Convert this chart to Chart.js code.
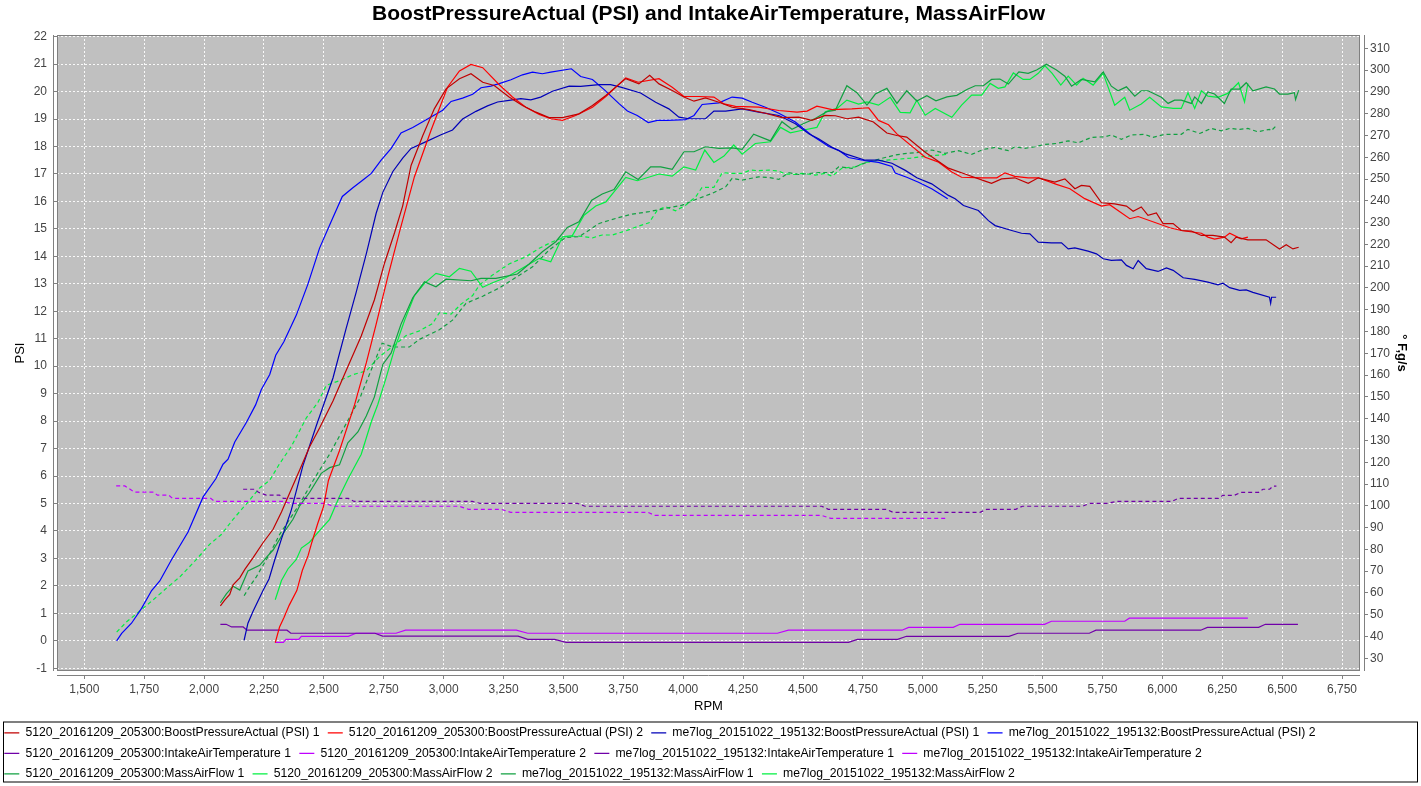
<!DOCTYPE html>
<html lang="en">
<head>
  <meta charset="UTF-8">
  <title>BoostPressureActual (PSI) and IntakeAirTemperature, MassAirFlow</title>
  <script src="https://cdn.jsdelivr.net/npm/chart.js@4.4.0/dist/chart.umd.min.js"></script>
  <style>
    body { margin: 0; background: #ffffff; }
  </style>
</head>
<body>
  <canvas id="chart" width="1421" height="786"></canvas>

  <script>
    // 01 data (rpm on x, PSI on the left axis, °F / g/s on the right axis)

    // 5120_20161209_205300 BoostPressureActual (PSI) 1
    const boost5120_1_rpm = [2068, 2086, 2107, 2121, 2149, 2170, 2204, 2246, 2288, 2323, 2364, 2399, 2440, 2482, 2538, 2593, 2656, 2711, 2753, 2795, 2829, 2864, 2913, 2961, 3010, 3066, 3114, 3163, 3211, 3273, 3329, 3385, 3440, 3496, 3565, 3621, 3677, 3760, 3815, 3860, 3899, 3954, 4003, 4045, 4093, 4149, 4204, 4274, 4343, 4412, 4482, 4537, 4593, 4635, 4683, 4732, 4794, 4850, 4892, 4933, 5010, 5107, 5176, 5260, 5287, 5329, 5384, 5440, 5482, 5551, 5593, 5635, 5662, 5697, 5746, 5801, 5850, 5878, 5912, 5940, 5975, 6003, 6045, 6079, 6121, 6163, 6211, 6259, 6287, 6308, 6357, 6433, 6489, 6517, 6545, 6569];
    const boost5120_1 = [1.27, 1.48, 1.69, 2.04, 2.29, 2.6, 3.02, 3.57, 4.06, 4.69, 5.52, 6.22, 7.06, 7.75, 8.73, 9.84, 11.1, 12.42, 13.75, 14.86, 15.84, 17.31, 18.4, 19.37, 20.1, 20.47, 20.65, 20.34, 20.22, 19.8, 19.49, 19.25, 19.05, 19.05, 19.19, 19.49, 19.86, 20.47, 20.28, 20.59, 20.28, 20.04, 19.8, 19.65, 19.77, 19.61, 19.43, 19.34, 19.21, 19.05, 19.07, 18.95, 19.13, 19.12, 19.01, 19.07, 18.89, 18.49, 18.4, 18.34, 17.79, 17.21, 17.0, 16.74, 16.66, 16.82, 16.86, 16.66, 16.86, 16.7, 16.82, 16.46, 16.58, 16.55, 15.95, 15.91, 15.83, 15.64, 15.8, 15.49, 15.58, 15.19, 15.19, 14.94, 14.92, 14.76, 14.76, 14.7, 14.5, 14.7, 14.6, 14.6, 14.27, 14.42, 14.27, 14.33];

    // 5120_20161209_205300 BoostPressureActual (PSI) 2
    const boost5120_2_rpm = [2297, 2315, 2334, 2355, 2387, 2410, 2434, 2450, 2474, 2498, 2519, 2565, 2628, 2677, 2718, 2767, 2816, 2878, 2947, 3016, 3066, 3114, 3163, 3232, 3287, 3343, 3399, 3447, 3496, 3551, 3621, 3677, 3760, 3812, 3899, 3954, 4003, 4065, 4128, 4170, 4218, 4315, 4399, 4475, 4517, 4558, 4621, 4704, 4774, 4815, 4857, 4892, 5010, 5066, 5121, 5162, 5246, 5309, 5343, 5384, 5440, 5482, 5558, 5614, 5676, 5746, 5780, 5864, 5899, 6031, 6079, 6163, 6190, 6218, 6259, 6281, 6329, 6357];
    const boost5120_2 = [-0.07, 0.5, 0.86, 1.29, 1.83, 2.56, 3.1, 3.59, 4.26, 4.87, 5.84, 6.92, 8.59, 10.12, 11.52, 13.26, 14.9, 16.9, 18.58, 20.16, 20.75, 20.99, 20.87, 20.25, 19.8, 19.43, 19.17, 19.01, 18.95, 19.13, 19.43, 19.82, 20.5, 20.34, 20.47, 20.16, 19.82, 19.82, 19.8, 19.55, 19.46, 19.43, 19.31, 19.25, 19.29, 19.47, 19.34, 19.37, 19.41, 18.95, 18.79, 18.46, 17.61, 17.43, 17.07, 16.88, 16.86, 16.86, 17.04, 16.91, 16.86, 16.86, 16.62, 16.46, 16.1, 15.83, 15.88, 15.37, 15.45, 15.04, 14.94, 14.84, 14.7, 14.63, 14.7, 14.84, 14.64, 14.7];

    // me7log_20151022_195132 BoostPressureActual (PSI) 1
    const boostMe7_1_rpm = [2167, 2183, 2204, 2246, 2271, 2295, 2323, 2364, 2412, 2468, 2538, 2593, 2635, 2677, 2718, 2746, 2788, 2829, 2864, 2920, 2989, 3037, 3079, 3135, 3183, 3225, 3273, 3322, 3364, 3405, 3454, 3524, 3572, 3649, 3697, 3739, 3822, 3885, 3940, 3982, 4024, 4093, 4128, 4177, 4246, 4315, 4399, 4468, 4524, 4565, 4621, 4677, 4760, 4815, 4871, 4927, 4975, 5037, 5107, 5135, 5170, 5232, 5274, 5302, 5371, 5412, 5447, 5482, 5537, 5579, 5607, 5635, 5690, 5725, 5753, 5787, 5829, 5850, 5878, 5899, 5933, 5982, 6017, 6045, 6087, 6135, 6190, 6232, 6253, 6281, 6323, 6350, 6378, 6447, 6452, 6456, 6475];
    const boostMe7_1 = [0.02, 0.64, 1.07, 1.83, 2.25, 2.95, 3.71, 4.76, 6.36, 7.82, 9.57, 11.38, 12.7, 14.09, 15.56, 16.33, 17.09, 17.58, 17.93, 18.15, 18.43, 18.6, 19.0, 19.28, 19.48, 19.62, 19.68, 19.74, 19.7, 19.8, 20.01, 20.2, 20.19, 20.25, 20.25, 20.16, 19.95, 19.61, 19.37, 19.07, 19.01, 19.01, 19.29, 19.29, 19.37, 19.25, 19.13, 18.83, 18.46, 18.28, 17.97, 17.73, 17.5, 17.5, 17.39, 17.13, 16.86, 16.64, 16.22, 16.1, 15.85, 15.67, 15.3, 15.12, 14.94, 14.84, 14.82, 14.52, 14.49, 14.49, 14.27, 14.31, 14.19, 14.09, 13.91, 13.85, 13.87, 13.67, 13.55, 13.85, 13.55, 13.45, 13.58, 13.49, 13.22, 13.16, 13.06, 12.96, 13.02, 12.86, 12.76, 12.78, 12.69, 12.51, 12.29, 12.51, 12.51];

    // me7log_20151022_195132 BoostPressureActual (PSI) 2
    const boostMe7_2_rpm = [1635, 1656, 1697, 1739, 1781, 1815, 1864, 1933, 1996, 2049, 2079, 2100, 2128, 2177, 2215, 2239, 2274, 2299, 2333, 2385, 2433, 2482, 2531, 2577, 2621, 2663, 2698, 2739, 2781, 2822, 2871, 2940, 2996, 3031, 3079, 3121, 3156, 3197, 3232, 3281, 3329, 3371, 3412, 3447, 3533, 3572, 3621, 3670, 3732, 3767, 3808, 3854, 3892, 3933, 4010, 4045, 4079, 4149, 4204, 4246, 4288, 4343, 4399, 4468, 4537, 4579, 4607, 4649, 4690, 4760, 4815, 4871, 4885, 4933, 4982, 5037, 5104];
    const boostMe7_2 = [0, 0.27, 0.64, 1.18, 1.83, 2.18, 2.95, 3.96, 5.24, 5.9, 6.43, 6.61, 7.24, 7.96, 8.59, 9.15, 9.7, 10.4, 10.89, 11.86, 12.98, 14.3, 15.28, 16.18, 16.5, 16.78, 17.02, 17.5, 17.93, 18.49, 18.69, 19.04, 19.32, 19.64, 19.76, 19.9, 20.14, 20.2, 20.29, 20.43, 20.61, 20.71, 20.65, 20.71, 20.83, 20.55, 20.44, 20.07, 19.56, 19.29, 19.13, 18.87, 18.95, 18.95, 18.98, 19.13, 19.53, 19.59, 19.8, 19.76, 19.61, 19.43, 19.21, 18.89, 18.4, 18.16, 18.0, 17.86, 17.6, 17.48, 17.42, 17.27, 17.03, 16.88, 16.7, 16.46, 16.1];

    // 5120_20161209_205300 IntakeAirTemperature 1
    const iat5120_1_rpm = [2068, 2092, 2115, 2163, 2179, 2346, 2362, 2713, 2745, 3311, 3351, 3463, 3511, 4690, 4727, 4895, 4932, 5360, 5397, 5695, 5723, 6160, 6188, 6402, 6430, 6566];
    const iat5120_1 = [45.6, 45.6, 44.4, 44.4, 42.9, 42.9, 41.5, 41.5, 40.2, 40.2, 38.7, 38.7, 37.3, 37.3, 38.7, 38.7, 40.1, 40.1, 41.5, 41.5, 42.9, 42.9, 44.2, 44.2, 45.6, 45.6];

    // 5120_20161209_205300 IntakeAirTemperature 2
    const iat5120_2_rpm = [2296, 2331, 2342, 2395, 2406, 2602, 2634, 2801, 2841, 3303, 3351, 4393, 4439, 4913, 4941, 5127, 5155, 5508, 5537, 5843, 5862, 6357];
    const iat5120_2 = [37.3, 37.3, 38.7, 38.7, 40.1, 40.1, 41.5, 41.5, 42.9, 42.9, 41.5, 41.5, 42.9, 42.9, 44.2, 44.2, 45.6, 45.6, 47, 47, 48.4, 48.4];

    // me7log_20151022_195132 IntakeAirTemperature 1
    const iatMe7_1_rpm = [2163, 2211, 2227, 2259, 2315, 2331, 2602, 2626, 3120, 3152, 3559, 3590, 4578, 4606, 4848, 4876, 5239, 5267, 5388, 5416, 5667, 5695, 5769, 5807, 6039, 6067, 6234, 6253, 6300, 6328, 6402, 6420, 6448, 6461, 6476];
    const iatMe7_1 = [107.6, 107.6, 106.2, 104.9, 104.9, 103.4, 103.4, 102, 102, 101.1, 101.1, 99.8, 99.8, 98.4, 98.4, 97, 97, 98.4, 98.4, 99.8, 99.8, 101.1, 101.1, 102, 102, 103.4, 103.4, 104.8, 104.8, 106.2, 106.2, 107.6, 107.6, 109, 109];

    // me7log_20151022_195132 IntakeAirTemperature 2
    const iatMe7_2_rpm = [1633, 1669, 1709, 1789, 1805, 1852, 1868, 2028, 2044, 2331, 2363, 2506, 2538, 3064, 3104, 3240, 3280, 3853, 3881, 4578, 4616, 5105];
    const iatMe7_2 = [109.1, 109.1, 106.3, 106.3, 104.9, 104.9, 103.4, 103.4, 102, 102, 101.1, 101.1, 99.8, 99.8, 98.4, 98.4, 97, 97, 95.6, 95.6, 94.2, 94.2];

    // 5120_20161209_205300 MassAirFlow 1
    const maf5120_1_rpm = [2068, 2093, 2121, 2149, 2183, 2232, 2260, 2288, 2329, 2371, 2399, 2440, 2489, 2524, 2565, 2600, 2642, 2677, 2711, 2746, 2781, 2822, 2871, 2920, 2968, 3010, 3114, 3156, 3218, 3308, 3357, 3412, 3468, 3516, 3565, 3618, 3662, 3711, 3760, 3812, 3864, 3906, 3954, 4003, 4045, 4093, 4149, 4204, 4246, 4294, 4364, 4412, 4454, 4503, 4551, 4600, 4635, 4683, 4725, 4767, 4802, 4850, 4892, 4933, 4975, 5017, 5055, 5101, 5142, 5184, 5219, 5253, 5287, 5322, 5357, 5401, 5440, 5475, 5516, 5558, 5593, 5621, 5662, 5718, 5753, 5787, 5815, 5850, 5885, 5912, 5940, 5996, 6024, 6051, 6079, 6121, 6135, 6163, 6190, 6218, 6259, 6287, 6323, 6350, 6378, 6433, 6468, 6489, 6524, 6551, 6556, 6569];
    const maf5120_1 = [55.5, 59.6, 63.1, 61.3, 70.1, 72.7, 76.3, 79.7, 87.1, 93.8, 100, 106.1, 114.9, 117.5, 118.8, 128.9, 133.9, 141.2, 150, 164.9, 170.2, 183.4, 195.5, 202.8, 200.5, 204, 203.3, 204.4, 204.4, 206.4, 211, 216.6, 221.2, 227.8, 230.4, 240.3, 243.1, 245.2, 253.3, 249.8, 255.6, 255.6, 254.4, 262.5, 262.5, 264.8, 264.1, 264.3, 263.6, 270.6, 267.5, 276.3, 272.8, 275.5, 277.8, 280.9, 281.6, 292.8, 289.6, 283.9, 289, 291.6, 284.7, 290.5, 285.8, 288.2, 285.9, 287.7, 288.4, 291.1, 292.8, 292.8, 295.7, 295.9, 293.6, 299.2, 298.5, 300, 302.7, 300, 297.2, 292.6, 295.7, 294.6, 299.2, 292.6, 290.5, 292.3, 288, 290.5, 290.5, 287.5, 284.7, 286.2, 286.2, 284.7, 287.7, 284.7, 290, 289, 284.7, 291.3, 291.3, 294.2, 290.5, 292.3, 291.3, 289, 289, 289.6, 286.5, 290.8];

    // 5120_20161209_205300 MassAirFlow 2
    const maf5120_2_rpm = [2297, 2323, 2350, 2385, 2406, 2440, 2482, 2524, 2565, 2600, 2656, 2698, 2725, 2760, 2795, 2837, 2878, 2920, 2968, 3024, 3066, 3114, 3163, 3204, 3260, 3315, 3399, 3447, 3496, 3537, 3586, 3635, 3677, 3760, 3808, 3899, 3954, 4003, 4052, 4090, 4128, 4170, 4211, 4246, 4301, 4364, 4406, 4447, 4503, 4558, 4593, 4642, 4683, 4732, 4767, 4815, 4864, 4906, 4947, 4975, 5010, 5052, 5121, 5162, 5204, 5246, 5281, 5315, 5343, 5378, 5419, 5447, 5482, 5510, 5540, 5576, 5607, 5642, 5669, 5711, 5753, 5801, 5843, 5864, 5912, 5947, 5996, 6045, 6079, 6107, 6135, 6163, 6190, 6232, 6273, 6318, 6343, 6357];
    const maf5120_2 = [56.9, 65.7, 71, 75.4, 80.6, 83.3, 88.6, 93.8, 104.3, 112.2, 123.7, 138.6, 146.5, 158.8, 172, 185.2, 196.5, 202.1, 206.7, 205.1, 209, 207.7, 200.3, 202.4, 204.8, 208.2, 213.6, 212, 223.5, 224, 233.4, 237.6, 239.5, 250.7, 249.2, 252.3, 251.3, 255.6, 254.1, 263.3, 257.6, 260.5, 265.6, 261.4, 266.3, 267.1, 273.7, 271.2, 272.5, 273.7, 280.9, 282.4, 286.2, 284.4, 285.4, 283.9, 287.5, 280.6, 280.4, 286.2, 279.3, 282.4, 278.3, 283.9, 288.5, 288.5, 293.9, 291.6, 292.3, 298.7, 295.7, 295.7, 298.5, 302, 298.5, 293.1, 297.2, 293.1, 296.2, 293.1, 298.5, 283.9, 287.5, 281.6, 284.4, 287.5, 283.1, 282.4, 282.4, 289.6, 282.4, 290.5, 288, 287.5, 289.3, 294.2, 285.4, 293.9];

    // me7log_20151022_195132 MassAirFlow 1
    const mafMe7_1_rpm = [2167, 2191, 2218, 2246, 2274, 2315, 2357, 2399, 2454, 2524, 2593, 2649, 2704, 2743, 2788, 2857, 2899, 2982, 3037, 3093, 3163, 3232, 3301, 3371, 3440, 3510, 3565, 3649, 3718, 3787, 3857, 3926, 3996, 4052, 4121, 4177, 4204, 4246, 4315, 4357, 4399, 4440, 4482, 4565, 4621, 4649, 4704, 4760, 4829, 4885, 4933, 4982, 5037, 5093, 5149, 5204, 5253, 5302, 5357, 5384, 5426, 5468, 5510, 5558, 5607, 5649, 5704, 5760, 5787, 5829, 5871, 5926, 5961, 6010, 6079, 6107, 6156, 6204, 6246, 6281, 6323, 6357, 6398, 6447, 6454, 6475];
    const mafMe7_1 = [58.7, 63.1, 67.4, 72.7, 78, 86.8, 93.8, 100.9, 111.4, 123.7, 137.7, 149.1, 164.1, 174.6, 172.9, 172.9, 176.4, 180.8, 185.2, 192.9, 196.2, 200, 204.8, 209.7, 217.4, 223.2, 223.5, 229.6, 231.9, 233.9, 235, 236.5, 238, 240.6, 243.4, 246.4, 250.3, 249.5, 251, 250.7, 249.8, 252.9, 252.1, 252.9, 252.9, 255.6, 254.9, 257.4, 259.5, 261, 261.8, 262.2, 263.3, 261.8, 263, 261.3, 263.6, 264.5, 263, 264.8, 264.1, 264.8, 265.9, 266.3, 267.5, 266.6, 269.1, 269.4, 270.2, 268.2, 270.2, 270.5, 269.1, 270.5, 270.5, 272.8, 270.9, 273.2, 272.1, 273.2, 272.8, 273.2, 271.7, 272.8, 272.1, 274.4];

    // me7log_20151022_195132 MassAirFlow 2
    const mafMe7_2_rpm = [1635, 1677, 1732, 1788, 1843, 1899, 1968, 2024, 2072, 2121, 2177, 2232, 2274, 2315, 2364, 2427, 2475, 2510, 2565, 2621, 2677, 2732, 2788, 2843, 2899, 2954, 2982, 3031, 3072, 3121, 3149, 3204, 3273, 3343, 3399, 3454, 3510, 3565, 3621, 3662, 3704, 3760, 3815, 3857, 3892, 3926, 3968, 4010, 4052, 4079, 4128, 4163, 4204, 4246, 4281, 4315, 4357, 4399, 4426, 4468, 4496, 4551, 4593, 4621, 4662, 4718, 4760, 4815, 4898, 4950, 5000, 5050, 5104];
    const mafMe7_2 = [42, 46.8, 51.7, 56.9, 62.2, 67.4, 75.4, 82.4, 86.8, 93.8, 100.9, 108.2, 111.7, 119.3, 127.2, 140.4, 147.4, 155.3, 157.4, 160.2, 161.9, 168.5, 173.2, 178.1, 180.3, 183.7, 188.6, 188, 192.5, 196.5, 201.3, 205.9, 211, 214.3, 218.2, 221.2, 223.5, 223.8, 223, 224.3, 224.3, 226.2, 228.4, 229.9, 235.7, 237.3, 235.4, 238, 241.8, 246.2, 246.2, 252.9, 252.6, 252.6, 254.1, 253.8, 254.1, 253.6, 252.3, 252.1, 252.6, 251.8, 252.6, 251.3, 254.9, 255.6, 257.6, 258.4, 259.1, 259.6, 260.3, 260.8, 261.3];

    // tick labels
    const rpmTicks = [1500, 1750, 2000, 2250, 2500, 2750, 3000, 3250, 3500, 3750, 4000, 4250, 4500, 4750, 5000, 5250, 5500, 5750, 6000, 6250, 6500, 6750];
    const psiTicks = [-1, 0, 1, 2, 3, 4, 5, 6, 7, 8, 9, 10, 11, 12, 13, 14, 15, 16, 17, 18, 19, 20, 21, 22];
    const rightTicks = [30, 40, 50, 60, 70, 80, 90, 100, 110, 120, 130, 140, 150, 160, 170, 180, 190, 200, 210, 220, 230, 240, 250, 260, 270, 280, 290, 300, 310];

    // 02 helpers
    function toPoints(rpm, values) {
      return rpm.map((x, i) => ({x: x, y: values[i]}));
    }

    function makeSet(label, rpm, values, color, axis, dashed) {
      return {
        label: label,
        data: toPoints(rpm, values),
        yAxisID: axis,
        borderColor: color,
        backgroundColor: color,
        borderWidth: 1.2,
        borderDash: dashed ? [4, 3] : [],
        pointRadius: 0,
        tension: 0,
        fill: false
      };
    }

    // 03 plot background, outline, offset axis lines and legend frame
    const plotFrame = {
      id: 'plotFrame',
      beforeDraw(chart) {
        const {ctx, chartArea: {left, top, right, bottom}} = chart;
        ctx.save();
        ctx.fillStyle = '#c0c0c0';
        ctx.fillRect(left, top, right - left, bottom - top);
        ctx.restore();
      },
      beforeDatasetsDraw(chart) {
        const {ctx, chartArea: {left, top, right, bottom}} = chart;
        ctx.save();
        ctx.lineWidth = 1;
        ctx.strokeStyle = '#808080';
        ctx.strokeRect(left + 0.5, top + 0.5, right - left - 1, bottom - top - 1);
        ctx.beginPath();
        ctx.moveTo(left - 3.5, top);
        ctx.lineTo(left - 3.5, bottom);
        ctx.moveTo(left, bottom + 4.5);
        ctx.lineTo(right, bottom + 4.5);
        ctx.moveTo(right + 4.5, top);
        ctx.lineTo(right + 4.5, bottom);
        ctx.stroke();
        ctx.restore();
      },
      afterDraw(chart) {
        const {ctx, legend} = chart;
        ctx.save();
        ctx.lineWidth = 1;
        ctx.strokeStyle = '#000000';
        ctx.strokeRect(3.5, legend.top + 3.5, 1414, 60);
        ctx.restore();
      }
    };

    // 04 chart
    const tickFont = {family: 'Liberation Sans', size: 12};
    const gridLook = {color: 'rgba(255,255,255,0.9)', tickColor: '#808080', tickBorderDash: [0, 4, 4, 100]};

    const elChart = document.getElementById('chart').getContext('2d');
    const myChart = new Chart(elChart, {
      type: 'line',
      data: {
        datasets: [
          makeSet('5120_20161209_205300:BoostPressureActual (PSI) 1', boost5120_1_rpm, boost5120_1, '#c00000', 'y', false),
          makeSet('5120_20161209_205300:BoostPressureActual (PSI) 2', boost5120_2_rpm, boost5120_2, '#ff0000', 'y', false),
          makeSet('me7log_20151022_195132:BoostPressureActual (PSI) 1', boostMe7_1_rpm, boostMe7_1, '#0000b8', 'y', false),
          makeSet('me7log_20151022_195132:BoostPressureActual (PSI) 2', boostMe7_2_rpm, boostMe7_2, '#0000ff', 'y', false),
          makeSet('5120_20161209_205300:IntakeAirTemperature 1', iat5120_1_rpm, iat5120_1, '#7000a8', 'y1', false),
          makeSet('5120_20161209_205300:IntakeAirTemperature 2', iat5120_2_rpm, iat5120_2, '#c000ff', 'y1', false),
          makeSet('me7log_20151022_195132:IntakeAirTemperature 1', iatMe7_1_rpm, iatMe7_1, '#7000a8', 'y1', true),
          makeSet('me7log_20151022_195132:IntakeAirTemperature 2', iatMe7_2_rpm, iatMe7_2, '#c000ff', 'y1', true),
          makeSet('5120_20161209_205300:MassAirFlow 1', maf5120_1_rpm, maf5120_1, '#10a040', 'y1', false),
          makeSet('5120_20161209_205300:MassAirFlow 2', maf5120_2_rpm, maf5120_2, '#00f040', 'y1', false),
          makeSet('me7log_20151022_195132:MassAirFlow 1', mafMe7_1_rpm, mafMe7_1, '#10a040', 'y1', true),
          makeSet('me7log_20151022_195132:MassAirFlow 2', mafMe7_2_rpm, mafMe7_2, '#00f040', 'y1', true)
        ]
      },
      options: {
        responsive: false,
        animation: false,
        events: [],
        layout: {padding: {left: -4, right: 0, top: 0, bottom: -4}},
        plugins: {
          title: {
            display: true,
            text: 'BoostPressureActual (PSI) and IntakeAirTemperature, MassAirFlow',
            color: '#000000',
            font: {family: 'Liberation Sans', size: 21, weight: 'bold'},
            padding: {top: 2, bottom: 7.8}
          },
          legend: {
            position: 'bottom',
            align: 'start',
            labels: {
              color: '#000000',
              font: {family: 'Liberation Sans', size: 12.2},
              usePointStyle: true,
              pointStyle: 'line',
              pointStyleWidth: 15,
              padding: 8.3
            }
          },
          tooltip: {enabled: false}
        },
        scales: {
          x: {
            type: 'linear',
            min: 1386,
            max: 6825,
            afterBuildTicks: axis => { axis.ticks = rpmTicks.map(v => ({value: v})); },
            afterFit: scale => { scale.height = 47.5; },
            ticks: {font: tickFont, color: '#444444', padding: 3, maxRotation: 0, autoSkip: false},
            grid: Object.assign({tickLength: 8}, gridLook),
            border: {display: false, dash: [2, 2]},
            title: {display: true, text: 'RPM', color: '#000000', font: {family: 'Liberation Sans', size: 13}, padding: {top: 0, bottom: 4.7}}
          },
          y: {
            position: 'left',
            min: -1.1,
            max: 22.06,
            afterBuildTicks: axis => { axis.ticks = psiTicks.map(v => ({value: v})); },
            afterFit: scale => { scale.width = 61; },
            ticks: {font: tickFont, color: '#444444', padding: 3, autoSkip: false},
            grid: Object.assign({tickLength: 7}, gridLook, {tickBorderDash: [0, 4, 3, 100]}),
            border: {display: false, dash: [2, 2]},
            title: {display: true, text: 'PSI', color: '#000000', font: {family: 'Liberation Sans', size: 13}, padding: {top: 16.2, bottom: 0}}
          },
          y1: {
            position: 'right',
            min: 24.17,
            max: 316.1,
            afterBuildTicks: axis => { axis.ticks = rightTicks.map(v => ({value: v})); },
            afterFit: scale => { scale.width = 61; },
            ticks: {font: tickFont, color: '#444444', padding: 2, autoSkip: false},
            grid: Object.assign({tickLength: 8, drawOnChartArea: false}, gridLook),
            border: {display: false},
            title: {display: true, text: '° F,g/s', color: '#000000', font: {family: 'Liberation Sans', size: 13, weight: 'bold'}, padding: {top: 11.2, bottom: 0}}
          }
        }
      },
      plugins: [plotFrame]
    });
  </script>
</body>
</html>
